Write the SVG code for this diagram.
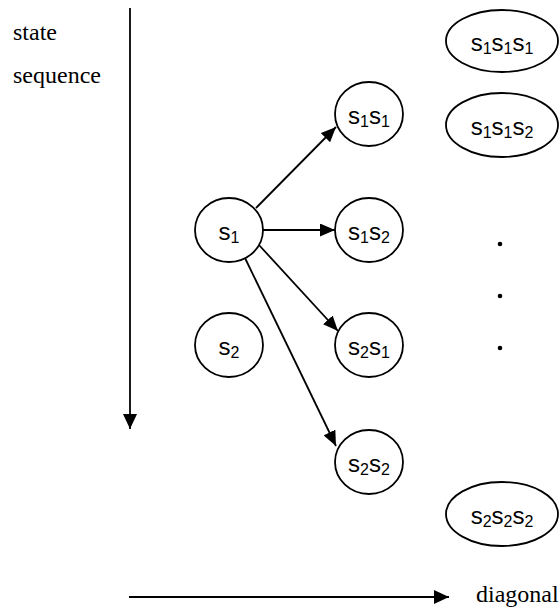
<svg xmlns="http://www.w3.org/2000/svg" width="560" height="608" viewBox="0 0 560 608">
<style>
.node{fill:#fff;stroke:#000;stroke-width:1.8}
.lbl{font-family:"Liberation Sans",Arial,sans-serif;font-size:24px;fill:#000;text-anchor:middle}
.sub{font-size:16px}
.ser{font-family:"Liberation Serif","Times New Roman","DejaVu Serif",serif;font-size:24px;fill:#000}
.edge{stroke:#000;stroke-width:1.8;fill:none}
</style>
<defs>
<marker id="big" markerUnits="userSpaceOnUse" markerWidth="15" markerHeight="14" refX="15" refY="7" orient="auto"><path d="M0,0 L15,7 L0,14 z" fill="#000"/></marker>
<marker id="sm" markerUnits="userSpaceOnUse" markerWidth="15" markerHeight="13" refX="15" refY="6.5" orient="auto"><path d="M0,0 L15,6.5 L0,13 z" fill="#000"/></marker>
</defs>
<rect width="560" height="608" fill="#fff"/>
<g id="axes">
<text class="ser" x="13" y="40">state</text>
<text class="ser" x="13" y="83">sequence</text>
<line class="edge" x1="130" y1="8" x2="130" y2="429" marker-end="url(#big)"/>
<line class="edge" x1="129" y1="597" x2="449" y2="597" marker-end="url(#big)"/>
<text class="ser" x="476" y="602">diagonal</text>
</g>
<g id="connectors">
<line class="edge" x1="256" y1="208" x2="336" y2="127" marker-end="url(#sm)"/>
<line class="edge" x1="263" y1="230" x2="335" y2="230" marker-end="url(#sm)"/>
<line class="edge" x1="259" y1="245" x2="338" y2="331" marker-end="url(#sm)"/>
<line class="edge" x1="245" y1="258" x2="336" y2="446" marker-end="url(#sm)"/>
</g>
<g id="n_s1"><ellipse class="node" cx="229" cy="230" rx="34" ry="32"/><text class="lbl" x="229" y="240">s<tspan class="sub" dy="3">1</tspan></text></g>
<g id="n_s2"><ellipse class="node" cx="229" cy="345" rx="34" ry="32"/><text class="lbl" x="229" y="355">s<tspan class="sub" dy="3">2</tspan></text></g>
<g id="n_s1s1"><ellipse class="node" cx="369" cy="114" rx="34" ry="32"/><text class="lbl" x="369" y="124">s<tspan class="sub" dy="3">1</tspan><tspan dy="-3">s</tspan><tspan class="sub" dy="3">1</tspan></text></g>
<g id="n_s1s2"><ellipse class="node" cx="369" cy="230" rx="34" ry="32"/><text class="lbl" x="369" y="240">s<tspan class="sub" dy="3">1</tspan><tspan dy="-3">s</tspan><tspan class="sub" dy="3">2</tspan></text></g>
<g id="n_s2s1"><ellipse class="node" cx="369" cy="345" rx="34" ry="32"/><text class="lbl" x="369" y="355">s<tspan class="sub" dy="3">2</tspan><tspan dy="-3">s</tspan><tspan class="sub" dy="3">1</tspan></text></g>
<g id="n_s2s2"><ellipse class="node" cx="369" cy="462" rx="34" ry="32"/><text class="lbl" x="369" y="472">s<tspan class="sub" dy="3">2</tspan><tspan dy="-3">s</tspan><tspan class="sub" dy="3">2</tspan></text></g>
<g id="n_s1s1s1"><ellipse class="node" cx="502" cy="41" rx="56" ry="31"/><text class="lbl" x="502" y="51">s<tspan class="sub" dy="3">1</tspan><tspan dy="-3">s</tspan><tspan class="sub" dy="3">1</tspan><tspan dy="-3">s</tspan><tspan class="sub" dy="3">1</tspan></text></g>
<g id="n_s1s1s2"><ellipse class="node" cx="502" cy="125" rx="56" ry="32"/><text class="lbl" x="502" y="135">s<tspan class="sub" dy="3">1</tspan><tspan dy="-3">s</tspan><tspan class="sub" dy="3">1</tspan><tspan dy="-3">s</tspan><tspan class="sub" dy="3">2</tspan></text></g>
<g id="n_s2s2s2"><ellipse class="node" cx="502" cy="514" rx="56" ry="32"/><text class="lbl" x="502" y="524">s<tspan class="sub" dy="3">2</tspan><tspan dy="-3">s</tspan><tspan class="sub" dy="3">2</tspan><tspan dy="-3">s</tspan><tspan class="sub" dy="3">2</tspan></text></g>
<g id="ellipsis">
<circle cx="500" cy="244" r="2.3" fill="#000"/>
<circle cx="500" cy="296" r="2.3" fill="#000"/>
<circle cx="500" cy="348" r="2.3" fill="#000"/>
</g>
</svg>
